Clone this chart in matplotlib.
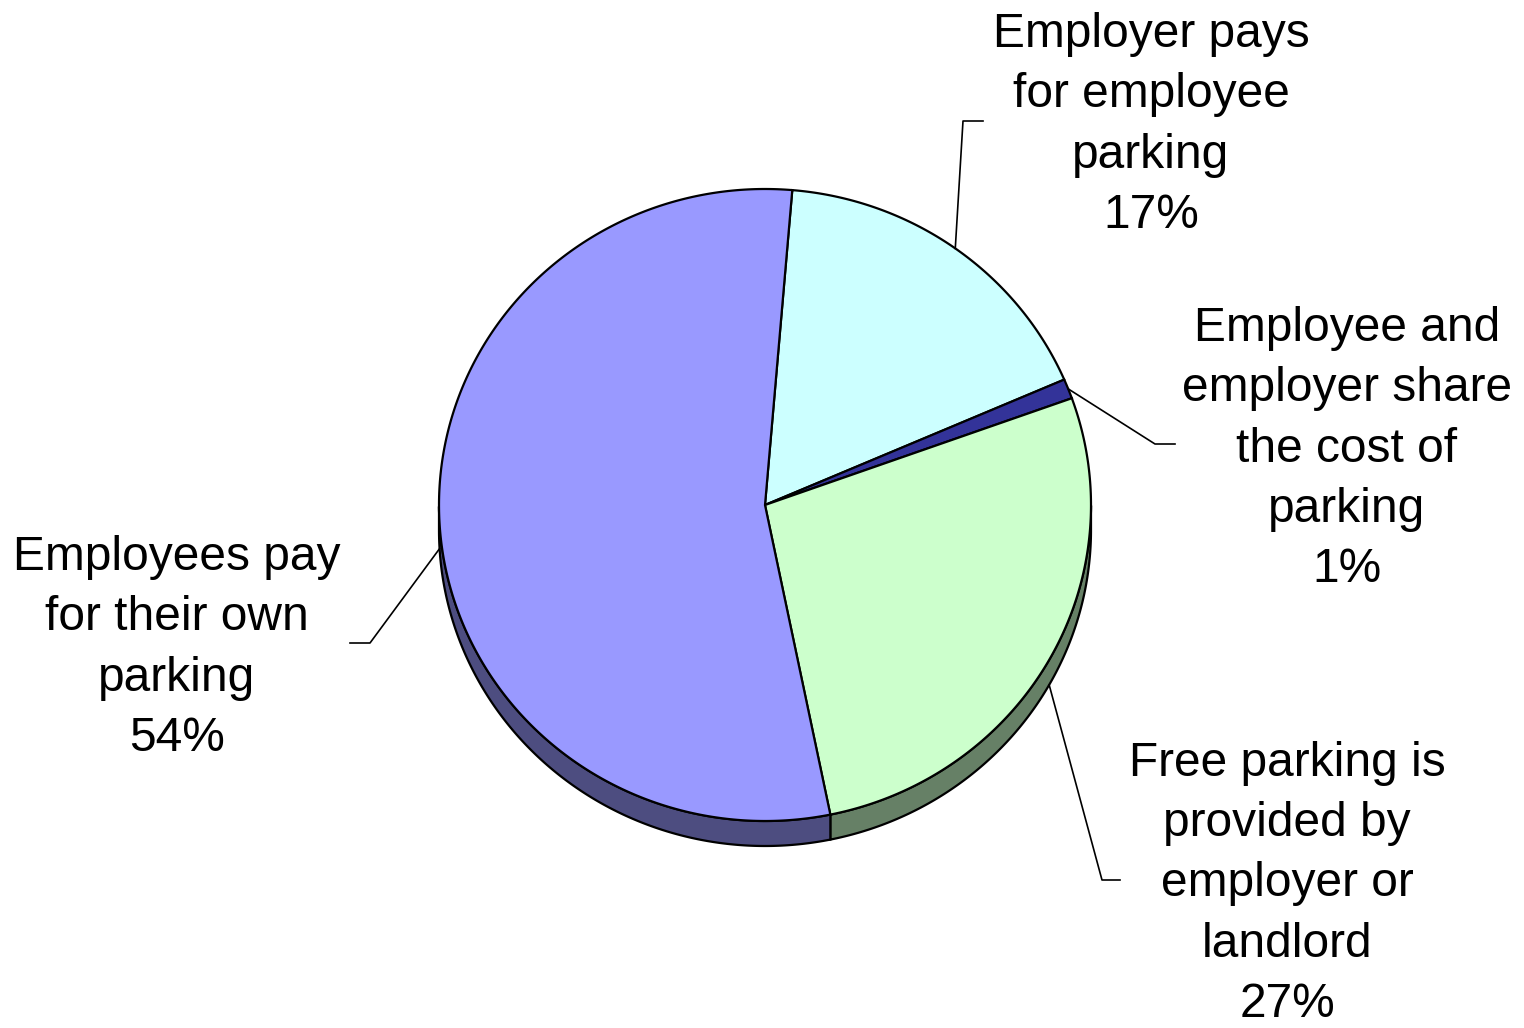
import numpy as np
import matplotlib
matplotlib.use("Agg")
import matplotlib.pyplot as plt
from matplotlib.patches import Polygon

# Data
labels = [
    "Employer pays\nfor employee\nparking",
    "Employee and\nemployer share\nthe cost of\nparking",
    "Free parking is\nprovided by\nemployer or\nlandlord",
    "Employees pay\nfor their own\nparking",
]
values = [17, 1, 27, 54]
top_colors = ["#CCFFFF", "#333399", "#CCFFCC", "#9999FF"]
side_colors = ["#668080", "#1A1A4D", "#668066", "#4D4D80"]

# label placement (pixel coords) and leader elbows
label_pos = [(1151, 125), (1347, 449), (1287, 884), (177, 648)]
elbows = [(963, 121, 983), (1155, 444, 1175), (1102, 880, 1120), (370, 643, 350)]

# pie geometry in pixel units
cx, cy = 765, 505
rx, ry = 326, 316
depth = 25
start_angle = 85.2

plt.rcParams['font.family'] = ['Liberation Sans', 'DejaVu Sans']

fig = plt.figure(figsize=(15.24, 10.28), dpi=100)
ax = fig.add_axes([0, 0, 1, 1])
ax.set_xlim(0, 1524)
ax.set_ylim(1028, 0)
ax.axis('off')

fracs = np.array(values, dtype=float) / sum(values)
bounds = start_angle - np.concatenate([[0], np.cumsum(fracs) * 360])


def arc(t0, t1, n=300):
    t = np.radians(np.linspace(t0, t1, n))
    return cx + rx * np.cos(t), cy - ry * np.sin(t), t


# sides (visible lower half only)
for i in range(len(values)):
    x, y, t = arc(bounds[i], bounds[i + 1], 600)
    m = np.sin(t) <= 0
    if m.sum() < 2:
        continue
    xs, ys = x[m], y[m]
    pts = np.column_stack([np.concatenate([xs, xs[::-1]]),
                           np.concatenate([ys, ys[::-1] + depth])])
    ax.add_patch(Polygon(pts, closed=True, facecolor=side_colors[i],
                         edgecolor='black', linewidth=1.6, zorder=1))

# top faces
for i in range(len(values)):
    x, y, _ = arc(bounds[i], bounds[i + 1])
    pts = np.column_stack([np.concatenate([[cx], x]), np.concatenate([[cy], y])])
    ax.add_patch(Polygon(pts, closed=True, facecolor=top_colors[i],
                         edgecolor='black', linewidth=1.6, zorder=2))

# labels with leader lines
for i, lab in enumerate(labels):
    mid = np.radians((bounds[i] + bounds[i + 1]) / 2)
    px = cx + rx * np.cos(mid)
    py = cy - ry * np.sin(mid)
    if np.sin(mid) < 0:
        py += depth
    ex, ey, hx = elbows[i]
    ax.plot([px, ex, hx], [py, ey, ey], color='black', linewidth=1.2, zorder=3)
    tx, ty = label_pos[i]
    ax.text(tx, ty, f"{lab}\n{values[i]}%", ha='center', va='center',
            fontsize=34.5, linespacing=1.43, color='black')

fig.savefig("out.png", dpi=100)
